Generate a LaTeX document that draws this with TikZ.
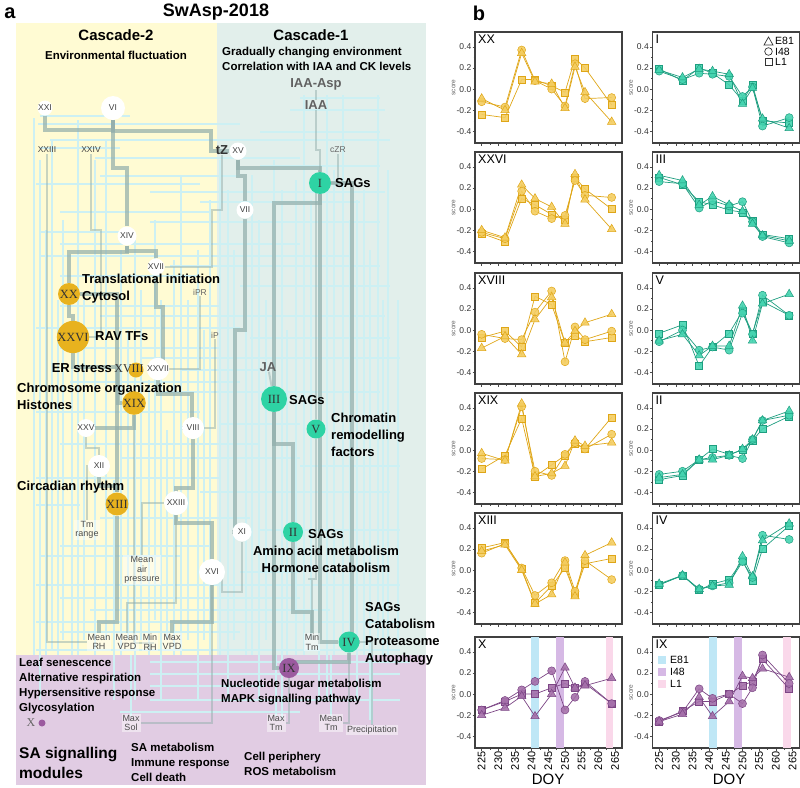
\documentclass[tikz,border=0pt]{standalone}
\usepackage{fontspec}
\setmainfont{Liberation Sans}
\newfontfamily\numfont{Liberation Serif}
\usepackage{pgfplots}
\usetikzlibrary{calc}
\usetikzlibrary{positioning}
\pgfplotsset{compat = 1.18}

\definecolor{yelbg}{HTML}{FFFBD3}
\definecolor{teabg}{HTML}{E2EFEB}
\definecolor{purbg}{HTML}{E1CCE3}
\definecolor{lnkgrey}{HTML}{93AFAC}
\definecolor{faintcy}{HTML}{CDF0F3}
\definecolor{goldc}{HTML}{E8B21E}
\definecolor{goldf}{HTML}{F4CD60}
\definecolor{goldd}{HTML}{DFA617}
\definecolor{tealc}{HTML}{2ED3A4}
\definecolor{tealf}{HTML}{45D4B0}
\definecolor{teald}{HTML}{1E9E80}
\definecolor{purc}{HTML}{9B5A9F}
\definecolor{purf}{HTML}{A570AA}
\definecolor{purd}{HTML}{7C4685}
\definecolor{bandE}{HTML}{BFE7F6}
\definecolor{bandI}{HTML}{D6B9E5}
\definecolor{bandL}{HTML}{FAD8EA}

\pgfdeclarelayer{back}
\pgfdeclarelayer{links}
\pgfsetlayers{back,links,main}

\tikzset{
  panlab/.style={font=\bfseries\fontsize{20}{20}\selectfont, inner sep=0pt},
  titlab/.style={font=\bfseries\fontsize{18}{18}\selectfont, inner sep=0pt},
  headlab/.style={font=\bfseries\fontsize{15}{15}\selectfont, inner sep=0pt},
  sublab/.style={font=\bfseries\fontsize{11.5}{15}\selectfont, inner sep=0pt, align=left},
  bigterm/.style={font=\bfseries\fontsize{13}{17}\selectfont, inner sep=0pt, anchor=west, align=left},
  smallterm/.style={font=\bfseries\fontsize{11.5}{15}\selectfont, inner sep=0pt, anchor=west, align=left},
  salab/.style={font=\bfseries\fontsize{15.5}{20}\selectfont, inner sep=0pt, anchor=west, align=left},
  hormlab/.style={font=\bfseries\fontsize{13}{13}\selectfont, text=black!62, inner sep=0pt},
  tinylab/.style={font=\fontsize{8.5}{8.5}\selectfont, text=black!60, inner sep=1pt},
  wlab/.style={font=\fontsize{8.5}{8.5}\selectfont, text=black!75, inner sep=1pt},
  envlab/.style={font=\fontsize{9}{9.5}\selectfont, text=black!70, align=center, inner sep=1pt,
    fill=white, fill opacity=0.45, text opacity=1},
  wnode/.style={circle, fill=white, text=black!75, font=\fontsize{8.5}{8.5}\selectfont, inner sep=0pt},
  gnode/.style={circle, fill=goldc, text=black!80, font=\numfont\fontsize{12.5}{12.5}\selectfont, inner sep=0pt},
  tnode/.style={circle, fill=tealc, text=black!80, font=\numfont\fontsize{12.5}{12.5}\selectfont, inner sep=0pt},
  pnode/.style={circle, fill=purc, text=black!80, font=\numfont\fontsize{12.5}{12.5}\selectfont, inner sep=0pt},
  glab/.style={font=\numfont\fontsize{12}{12}\selectfont, text=black!80, inner sep=0pt},
  lnk/.style={draw=lnkgrey, line width=3.2pt, draw opacity=0.72},
  lnkm/.style={draw=lnkgrey, line width=2pt, draw opacity=0.5},
  fnt/.style={draw=faintcy, line width=1.7pt},
  plab/.style={anchor=north west, font=\fontsize{12.5}{12.5}\selectfont, inner sep=1.5pt},
  leglab/.style={anchor=west, font=\fontsize{10.5}{10.5}\selectfont, inner sep=0pt},
}

\pgfplotsset{
  scoreax/.style={
    scale only axis, width=147pt, height=111pt, anchor=north west,
    xmin=223, xmax=267.1, ymin=-0.51, ymax=0.54,
    axis line style={draw=black!75, line width=1.1pt},
    xtick={225,230,...,265}, xticklabels={},
    ytick={-0.4,-0.2,0,0.2,0.4}, yticklabels={-0.4,-0.2,0.0,0.2,0.4},
    minor x tick num=1, minor y tick num=1,
    tick align=outside, tick pos=left,
    major tick length=2.5pt, minor tick length=1.5pt,
    tick style={black!70, line width=0.5pt},
    yticklabel style={font=\fontsize{8.5}{8.5}\selectfont, text=black!80, inner sep=1pt},
    ylabel={score}, ylabel style={font=\fontsize{6.5}{6.5}\selectfont, text=black!60, inner sep=0pt},
    clip=false,
  },
  doyax/.style={
    xticklabels={225,230,235,240,245,250,255,260,265},
    xticklabel style={rotate=90, anchor=east, font=\fontsize{11}{11}\selectfont, inner sep=1pt},
  },
  goldser/.style={color=goldd, line width=0.7pt, mark options={fill=goldf, draw=goldd, line width=0.5pt, fill opacity=0.9}},
  tealser/.style={color=teald, line width=0.7pt, mark options={fill=tealf, draw=teald, line width=0.5pt, fill opacity=0.9}},
  purpser/.style={color=purd, line width=0.7pt, mark options={fill=purf, draw=purd, line width=0.5pt, fill opacity=0.9}},
}

\newcommand{\threeseries}[2]{%
  \addplot[#1, mark=square*, mark size=3.5pt] table[x=d, y=s] {#2};
  \addplot[#1, mark=*, mark size=4pt] table[x=d, y=c] {#2};
  \addplot[#1, mark=triangle*, mark size=4.9pt] table[x=d, y=t] {#2};
}

\pgfplotstableread{
d t c s
225 -0.09 -0.12 -0.24
232 -0.20 -0.17 -0.27
237 0.34 0.37 0.09
241 0.07 0.08 0.09
246 0.05 0.00 0.03
250 -0.18 -0.16 -0.03
253 0.21 0.24 0.29
256 -0.03 -0.09 0.20
264 -0.31 -0.08 -0.15
}\tabXX
\pgfplotstableread{
d t c s
225 -0.20 -0.22 -0.23
232 -0.27 -0.28 -0.31
237 0.23 0.17 0.10
241 0.10 -0.02 0.04
246 0.02 -0.09 -0.05
250 -0.14 -0.06 -0.10
253 0.33 0.27 0.30
256 0.09 0.13 0.19
264 -0.19 0.11 0.00
}\tabXXVI
\pgfplotstableread{
d t c s
225 -0.17 -0.04 -0.07
232 -0.06 -0.08 -0.01
237 -0.23 -0.09 -0.16
241 0.10 0.17 0.32
246 0.31 0.37 0.24
250 -0.12 -0.30 -0.12
253 -0.01 0.03 -0.05
256 0.07 -0.09 -0.11
264 0.15 -0.01 -0.07
}\tabXVIII
\pgfplotstableread{
d t c s
225 -0.03 -0.08 -0.18
232 -0.10 -0.09 -0.05
237 0.44 0.41 0.30
241 -0.25 -0.20 -0.25
246 -0.22 -0.24 -0.14
250 -0.15 -0.04 -0.05
253 0.09 0.07 0.06
256 0.04 0.01 0.01
264 0.07 0.15 0.31
}\tabXIX
\pgfplotstableread{
d t c s
225 0.18 0.16 0.21
232 0.24 0.25 0.26
237 0.00 0.02 0.01
241 -0.32 -0.24 -0.31
246 -0.23 -0.12 -0.15
250 0.07 0.09 0.02
253 -0.25 -0.20 -0.22
256 0.14 0.09 0.06
264 0.26 -0.09 0.11
}\tabXIII
\pgfplotstableread{
d t c s
225 0.18 0.17 0.19
232 0.11 0.09 0.08
237 0.19 0.15 0.20
241 0.17 0.14 0.15
246 0.14 0.12 0.04
250 -0.14 -0.07 -0.11
253 0.01 0.02 0.04
256 -0.28 -0.35 -0.30
264 -0.37 -0.27 -0.32
}\tabI
\pgfplotstableread{
d t c s
225 0.32 0.26 0.30
232 0.27 0.24 0.23
237 0.04 0.01 0.07
241 0.12 0.08 0.04
246 0.04 0.03 -0.01
250 -0.02 0.07 -0.03
253 -0.14 -0.12 -0.11
256 -0.25 -0.26 -0.24
264 -0.30 -0.32 -0.28
}\tabIII
\pgfplotstableread{
d t c s
225 -0.10 -0.11 -0.03
232 -0.04 0.00 0.05
237 -0.24 -0.19 -0.34
241 -0.15 -0.16 -0.16
246 -0.15 -0.19 -0.03
250 0.23 0.16 0.18
253 -0.10 -0.04 -0.03
256 0.25 0.33 0.27
264 0.34 0.14 0.14
}\tabV
\pgfplotstableread{
d t c s
225 -0.26 -0.23 -0.28
232 -0.23 -0.20 -0.24
237 -0.09 -0.09 -0.09
241 -0.09 -0.07 0.01
246 -0.05 -0.05 -0.04
250 0.01 -0.08 0.00
253 0.10 0.10 0.09
256 0.28 0.28 0.20
264 0.37 0.33 0.32
}\tabII
\pgfplotstableread{
d t c s
225 -0.13 -0.14 -0.14
232 -0.05 -0.05 -0.05
237 -0.18 -0.18 -0.19
241 -0.15 -0.15 -0.13
246 -0.14 -0.12 -0.09
250 0.13 0.08 0.09
253 -0.06 -0.07 -0.10
256 0.28 0.33 0.20
264 0.44 0.29 0.42
}\tabIV
\pgfplotstableread{
d t c s
225 -0.20 -0.15 -0.15
232 -0.13 -0.06 -0.07
237 -0.02 0.04 0.00
241 -0.21 0.12 0.00
246 0.00 0.22 0.06
250 0.25 -0.15 0.10
253 0.06 -0.03 0.06
256 0.08 0.12 0.10
264 0.15 -0.09 -0.09
}\tabX
\pgfplotstableread{
d t c s
225 -0.26 -0.25 -0.26
232 -0.19 -0.17 -0.16
237 -0.03 0.05 -0.07
241 -0.21 -0.04 -0.07
246 -0.07 0.00 0.00
250 0.17 -0.09 0.08
253 0.15 0.06 0.12
256 0.24 0.37 0.33
264 0.16 0.10 0.05
}\tabIX

\begin{document}
\begin{tikzpicture}
\useasboundingbox (0pt,0pt) rectangle (800pt,-787pt);

\begin{scope}[x=1pt, y=-1pt]
  \node[panlab] (pa) at (10,13) {a};
  \node[panlab] (pb) at (479,13) {b};
  \node[titlab] (title) at (216,12) {SwAsp-2018};
  \node[headlab] (c2) at (116,35) {Cascade-2};
  \node[sublab] (c2sub) at (116,55) {Environmental fluctuation};
  \node[headlab] (c1) at (311,35) {Cascade-1};
  \node[sublab, anchor=west] (c1sub) at (222,58.5) {Gradually changing environment\\Correlation with IAA and CK levels};

  \node[hormlab] (IAAAsp) at (316,84) {IAA-Asp};
  \node[hormlab] (IAA) at (316,105) {IAA};
  \node[wnode, minimum size=11] (XXI) at (45,108) {XXI};
  \node[wnode, minimum size=24] (VI) at (113,108) {VI};
  \node[wlab] (XXIIIa) at (47,150) {XXIII};
  \node[wlab] (XXIV) at (91,150) {XXIV};
  \node[hormlab, text=black!80] (tZ) at (222,150) {tZ};
  \node[wnode, minimum size=17] (XV) at (238,151) {XV};
  \node[tinylab] (cZR) at (338,150) {cZR};
  \node[tnode, minimum size=22] (I) at (320,183) {I};
  \node[bigterm] (sagsI) at (335,183) {SAGs};
  \node[wnode, minimum size=17] (VII) at (245,210) {VII};
  \node[wnode, minimum size=19] (XIV) at (127,236) {XIV};
  \node[wnode, minimum size=17] (XVII) at (156,267) {XVII};
  \node[gnode, minimum size=22] (XX) at (69,294) {XX};
  \node[bigterm] (trans) at (82,288.5) {Translational initiation\\Cytosol};
  \node[tinylab] (iPR) at (200,292) {iPR};
  \node[gnode, minimum size=26] (XXVI) at (73,337) {XXVI};
  \node[bigterm] (rav) at (95,336) {RAV TFs};
  \node[tinylab] (iP) at (215,335) {iP};
  \node[bigterm, anchor=east] (er) at (112,368) {ER stress};
  \fill[goldc] (136,370) circle (7.5);
  \node[glab] (XVIII) at (129,369) {XVIII};
  \node[wnode, minimum size=22] (XXVII) at (158,369) {XXVII};
  \node[bigterm] (chrom) at (17,396) {Chromosome organization\\Histones};
  \node[gnode, minimum size=17] (XIX) at (134,403) {XIX};
  \node[hormlab] (JA) at (268,367) {JA};
  \node[tnode, minimum size=26] (III) at (274,399) {III};
  \node[bigterm] (sagsIII) at (289,400) {SAGs};
  \node[tnode, minimum size=19] (V) at (316,429) {V};
  \node[bigterm] (chrm) at (331,435) {Chromatin\\remodelling\\factors};
  \node[wnode, minimum size=17] (XXV) at (86,428) {XXV};
  \node[wnode, minimum size=22] (VIII) at (193,428) {VIII};
  \node[wnode, minimum size=22] (XII) at (99,466) {XII};
  \node[bigterm] (circ) at (17,487) {Circadian rhythm};
  \node[gnode, minimum size=22] (XIII) at (117,504) {XIII};
  \node[wnode, minimum size=24] (XXIII) at (176,503) {XXIII};
  \node[envlab] (Tmr) at (87,530) {Tm\\range};
  \node[wnode, minimum size=19] (XI) at (242,532) {XI};
  \node[tnode, minimum size=20] (II) at (293,532) {II};
  \node[bigterm] (sagsII) at (308,534) {SAGs};
  \node[bigterm, anchor=center, align=center] (amino) at (326,559) {Amino acid metabolism\\Hormone catabolism};
  \node[envlab] (MeanAir) at (142,570) {Mean\\air\\pressure};
  \node[wnode, minimum size=26] (XVI) at (212,572) {XVI};
  \node[bigterm] (sagsIV) at (365,633.5) {SAGs\\Catabolism\\Proteasome\\Autophagy};
  \node[tnode, minimum size=21] (IV) at (349,642) {IV};
  \node[envlab] (MeanRH) at (99,642) {Mean\\RH};
  \node[envlab] (MeanVPD) at (127,642) {Mean\\VPD};
  \node[envlab] (MinRH) at (150,642) {Min\\RH};
  \node[envlab] (MaxVPD) at (172,642) {Max\\VPD};
  \node[envlab] (MinTm) at (312,642) {Min\\Tm};
  \node[pnode, minimum size=20] (IX) at (289,668) {IX};
  \node[smallterm] (leaf) at (19,686.5) {Leaf senescence\\Alternative respiration\\Hypersensitive response\\Glycosylation};
  \node[smallterm] (nuc) at (221,692.5) {Nucleotide sugar metabolism\\MAPK signalling pathway};
  \node[circle, fill=purc, minimum size=7, inner sep=0pt] (X) at (42,723) {};
  \node[glab, text=black!60] (Xlab) at (31,723) {X};
  \node[envlab] (MaxSol) at (131,723) {Max\\Sol};
  \node[envlab] (MaxTm) at (276,723) {Max\\Tm};
  \node[envlab] (MeanTm) at (331,723) {Mean\\Tm};
  \node[envlab] (Precip) at (372,730) {Precipitation};
  \node[salab] (sa) at (19,763) {SA signalling\\modules};
  \node[smallterm] (samet) at (131,762.5) {SA metabolism\\Immune response\\Cell death};
  \node[smallterm] (cellp) at (244,763.5) {Cell periphery\\ROS metabolism};

  \begin{pgfonlayer}{back}
    \fill[yelbg] (16,23) rectangle (217,655);
    \fill[teabg] (217,23) rectangle (426,655);
    \fill[purbg] (16,655) rectangle (426,785);
  \end{pgfonlayer}

  \begin{pgfonlayer}{links}
    \foreach \x/\ya/\yb in {34/118/655, 40/160/700, 46/230/655, 52/140/650, 58/300/655, 63/220/640,
        72/360/655, 78/120/655, 84/300/640, 95/160/655, 106/140/640, 114/480/700, 121/250/655,
        128/330/640, 135/240/700, 141/290/640, 149/380/655, 155/220/620, 161/300/700,
        167/430/640, 174/260/655, 181/175/655, 188/300/640, 198/250/700, 204/330/640,
        210/200/655, 220/160/655, 228/190/700, 234/250/640, 246/300/655, 252/175/655,
        259/220/700, 266/300/640, 274/160/640, 282/190/720, 287/330/655, 296/180/655,
        304/95/655, 311/200/640, 319/250/700, 327/95/700, 334/170/655, 343/95/640,
        350/220/655, 357/200/700, 364/190/655, 370/250/720, 378/95/640, 383/300/655,
        388/170/655, 398/300/640, 131/655/716, 276/655/716, 331/655/716, 372/655/724}
      \draw[fnt] (\x,\ya) -- (\x,\yb);
    \foreach \y/\xa/\xb in {98/300/380, 110/290/385, 116/40/130, 124/38/240, 132/260/380,
        140/50/390, 148/40/120, 158/95/300, 166/260/380, 176/100/240, 184/36/200,
        192/150/385, 202/200/360, 212/60/210, 222/150/380, 232/40/120, 244/60/300,
        256/40/350, 266/170/380, 276/60/200, 286/240/390, 306/60/220, 316/100/385,
        328/36/240, 338/250/390, 348/60/220, 358/140/400, 370/180/260, 382/70/240,
        392/160/380, 412/36/200, 424/220/300, 444/60/260, 458/120/300, 466/300/400,
        478/36/220, 492/200/390, 505/36/80, 518/100/250, 530/260/400, 546/60/210,
        556/40/180, 572/240/300, 585/36/400, 598/60/300, 610/90/330, 622/36/400,
        632/60/240, 650/36/400, 662/150/410, 674/150/400, 686/150/265, 700/150/400,
        712/120/300}
      \draw[fnt] (\xa,\y) -- (\xb,\y);

    \draw[lnk] (XXI) |- ++(65,22) -| (VI);
    \draw[lnk] (VI) |- ++(98,23) |- (XV);
    \draw[lnk] (XV) |- ++(60,17) -| (I);
    \draw[lnk] (I) |- (IV);
    \draw[lnk] (I) |- ++(-30,20) -| (III);
    \draw[lnk] (I) -| ++(32,17) |- (IV);
    \draw[lnk] (III) |- ++(12,45) -| (II);
    \draw[lnk] (III) |- (IX);
    \draw[lnk] (XV) -- ++(0,25) -| (VII);
    \draw[lnk] (VII) |- ++(-10,120) |- (XI);
    \draw[lnk] (VI) |- ++(12,60) -| (XIV);
    \draw[lnk] (XIV) |- ++(-58,16) -| (XX);
    \draw[lnk] (XX) |- ++(4,22) -| (XXVI);
    \draw[lnk] (XIII) |- (XX);
    \draw[lnk] (XXVI) |- ++(45,30) |- (XIX);
    \draw[lnk] (XIII) |- ++(-18,118) -| (MeanRH);
    \draw[lnk] (XIV) |- ++(29,15) -| (XVII);
    \draw[lnk] (XVII) |- ++(7,40) |- (XXVII);
    \draw[lnk] (XXVII) |- ++(34,25) |- (VIII);
    \draw[lnk] (VIII) |- ++(-17,60) |- (XXIII);
    \draw[lnk] (XXIII) |- ++(36,20) -| (XVI);
    \draw[lnk] (XVI) |- ++(-40,50) -| (MaxVPD);
    \draw[lnk] (II) |- ++(19,80) -| (MinTm);
    \draw[lnk] (IV) |- ++(-40,20) -| (IX);
    \draw[lnk] (XIX) |- ++(-30,25) -| (XXV);
    \draw[lnk] (XII) |- ++(18,20) -| (XIII);

    \draw[lnkm] (XXV) |- ++(13,20) -| (XII);
    \draw[lnkm] (XXIIIa) |- (MeanRH);
    \draw[lnkm] (XXIV) |- ++(10,80) |- (XXVI);
    \draw[lnkm] (IAAAsp) -- (IAA);
    \draw[lnkm] (IAA) |- ++(4,45) -| (I);
    \draw[lnkm] (cZR) |- (I);
    \draw[lnkm] (tZ) |- ++(-10,60) |- (XVII);
    \draw[lnkm] (iPR) |- (XXVII);
    \draw[lnkm] (iP) |- (VIII);
    \draw[lnkm] (JA) -- (III);
    \draw[lnkm] (XI) |- ++(-20,60) |- (XVI);
    \draw[lnkm] (XVI) |- (MaxSol);
    \draw[lnkm] (IX) |- (MaxTm);
    \draw[lnkm] (IV) |- (MeanTm);
    \draw[lnkm] (IV) -| (Precip);
    \draw[lnkm] (MeanAir) |- (XXIII);
    \draw[lnkm] (Tmr) |- (XII);
    \draw[lnkm] (V) |- ++(-8,150) -| (MinTm);
    \draw[lnkm] (I) -| (V);
    \draw[lnkm] (XIX) |- ++(20,240) -| (MinRH);
    \draw[lnkm] (XXIII) |- ++(-50,100) -| (MeanVPD);
  \end{pgfonlayer}
\end{scope}

\begin{axis}[scoreax, at={(475pt,-32pt)}]
  \threeseries{goldser}{\tabXX}
  \node[plab] at (rel axis cs:0.01,0.99) {XX};
\end{axis}
\begin{axis}[scoreax, at={(475pt,-152pt)}]
  \threeseries{goldser}{\tabXXVI}
  \node[plab] at (rel axis cs:0.01,0.99) {XXVI};
\end{axis}
\begin{axis}[scoreax, at={(475pt,-273pt)}]
  \threeseries{goldser}{\tabXVIII}
  \node[plab] at (rel axis cs:0.01,0.99) {XVIII};
\end{axis}
\begin{axis}[scoreax, at={(475pt,-393pt)}]
  \threeseries{goldser}{\tabXIX}
  \node[plab] at (rel axis cs:0.01,0.99) {XIX};
\end{axis}
\begin{axis}[scoreax, at={(475pt,-513pt)}]
  \threeseries{goldser}{\tabXIII}
  \node[plab] at (rel axis cs:0.01,0.99) {XIII};
\end{axis}
\begin{axis}[scoreax, doyax, at={(475pt,-637pt)}]
  \fill[bandE] (axis cs:239.8,-0.51) rectangle (axis cs:242.2,0.54);
  \fill[bandI] (axis cs:247.3,-0.51) rectangle (axis cs:249.8,0.54);
  \fill[bandL] (axis cs:262.2,-0.51) rectangle (axis cs:264.5,0.54);
  \threeseries{purpser}{\tabX}
  \node[plab] at (rel axis cs:0.01,0.99) {X};
\end{axis}

\begin{axis}[scoreax, at={(652.5pt,-32pt)}]
  \threeseries{tealser}{\tabI}
  \node[plab] at (rel axis cs:0.01,0.99) {I};
\end{axis}
\begin{axis}[scoreax, at={(652.5pt,-152pt)}]
  \threeseries{tealser}{\tabIII}
  \node[plab] at (rel axis cs:0.01,0.99) {III};
\end{axis}
\begin{axis}[scoreax, at={(652.5pt,-273pt)}]
  \threeseries{tealser}{\tabV}
  \node[plab] at (rel axis cs:0.01,0.99) {V};
\end{axis}
\begin{axis}[scoreax, at={(652.5pt,-393pt)}]
  \threeseries{tealser}{\tabII}
  \node[plab] at (rel axis cs:0.01,0.99) {II};
\end{axis}
\begin{axis}[scoreax, at={(652.5pt,-513pt)}]
  \threeseries{tealser}{\tabIV}
  \node[plab] at (rel axis cs:0.01,0.99) {IV};
\end{axis}
\begin{axis}[scoreax, doyax, at={(652.5pt,-637pt)}]
  \fill[bandE] (axis cs:239.8,-0.51) rectangle (axis cs:242.2,0.54);
  \fill[bandI] (axis cs:247.3,-0.51) rectangle (axis cs:249.8,0.54);
  \fill[bandL] (axis cs:262.2,-0.51) rectangle (axis cs:264.5,0.54);
  \threeseries{purpser}{\tabIX}
  \node[plab] at (rel axis cs:0.01,0.99) {IX};
\end{axis}

\begin{scope}[x=1pt, y=-1pt]
  \draw[black!80, line width=0.7pt] (764,45) -- (773,45) -- (768.5,37) -- cycle;
  \draw[black!80, line width=0.7pt] (768.5,51.5) circle (3.8);
  \draw[black!80, line width=0.7pt] (765,58) rectangle (772,65);
  \node[leglab] (legE) at (775,41) {E81};
  \node[leglab] (legI) at (775,51.5) {I48};
  \node[leglab] (legL) at (775,61.5) {L1};
  \fill[bandE] (658,656) rectangle (666,664);
  \fill[bandI] (658,668) rectangle (666,676);
  \fill[bandL] (658,680) rectangle (666,688);
  \node[leglab] (bandlegE) at (670,660) {E81};
  \node[leglab] (bandlegI) at (670,672) {I48};
  \node[leglab] (bandlegL) at (670,684) {L1};
  \node[font=\fontsize{15}{15}\selectfont] (doyl) at (548,779) {DOY};
  \node[font=\fontsize{15}{15}\selectfont] (doyr) at (729,779) {DOY};
\end{scope}
\end{tikzpicture}
\end{document}
